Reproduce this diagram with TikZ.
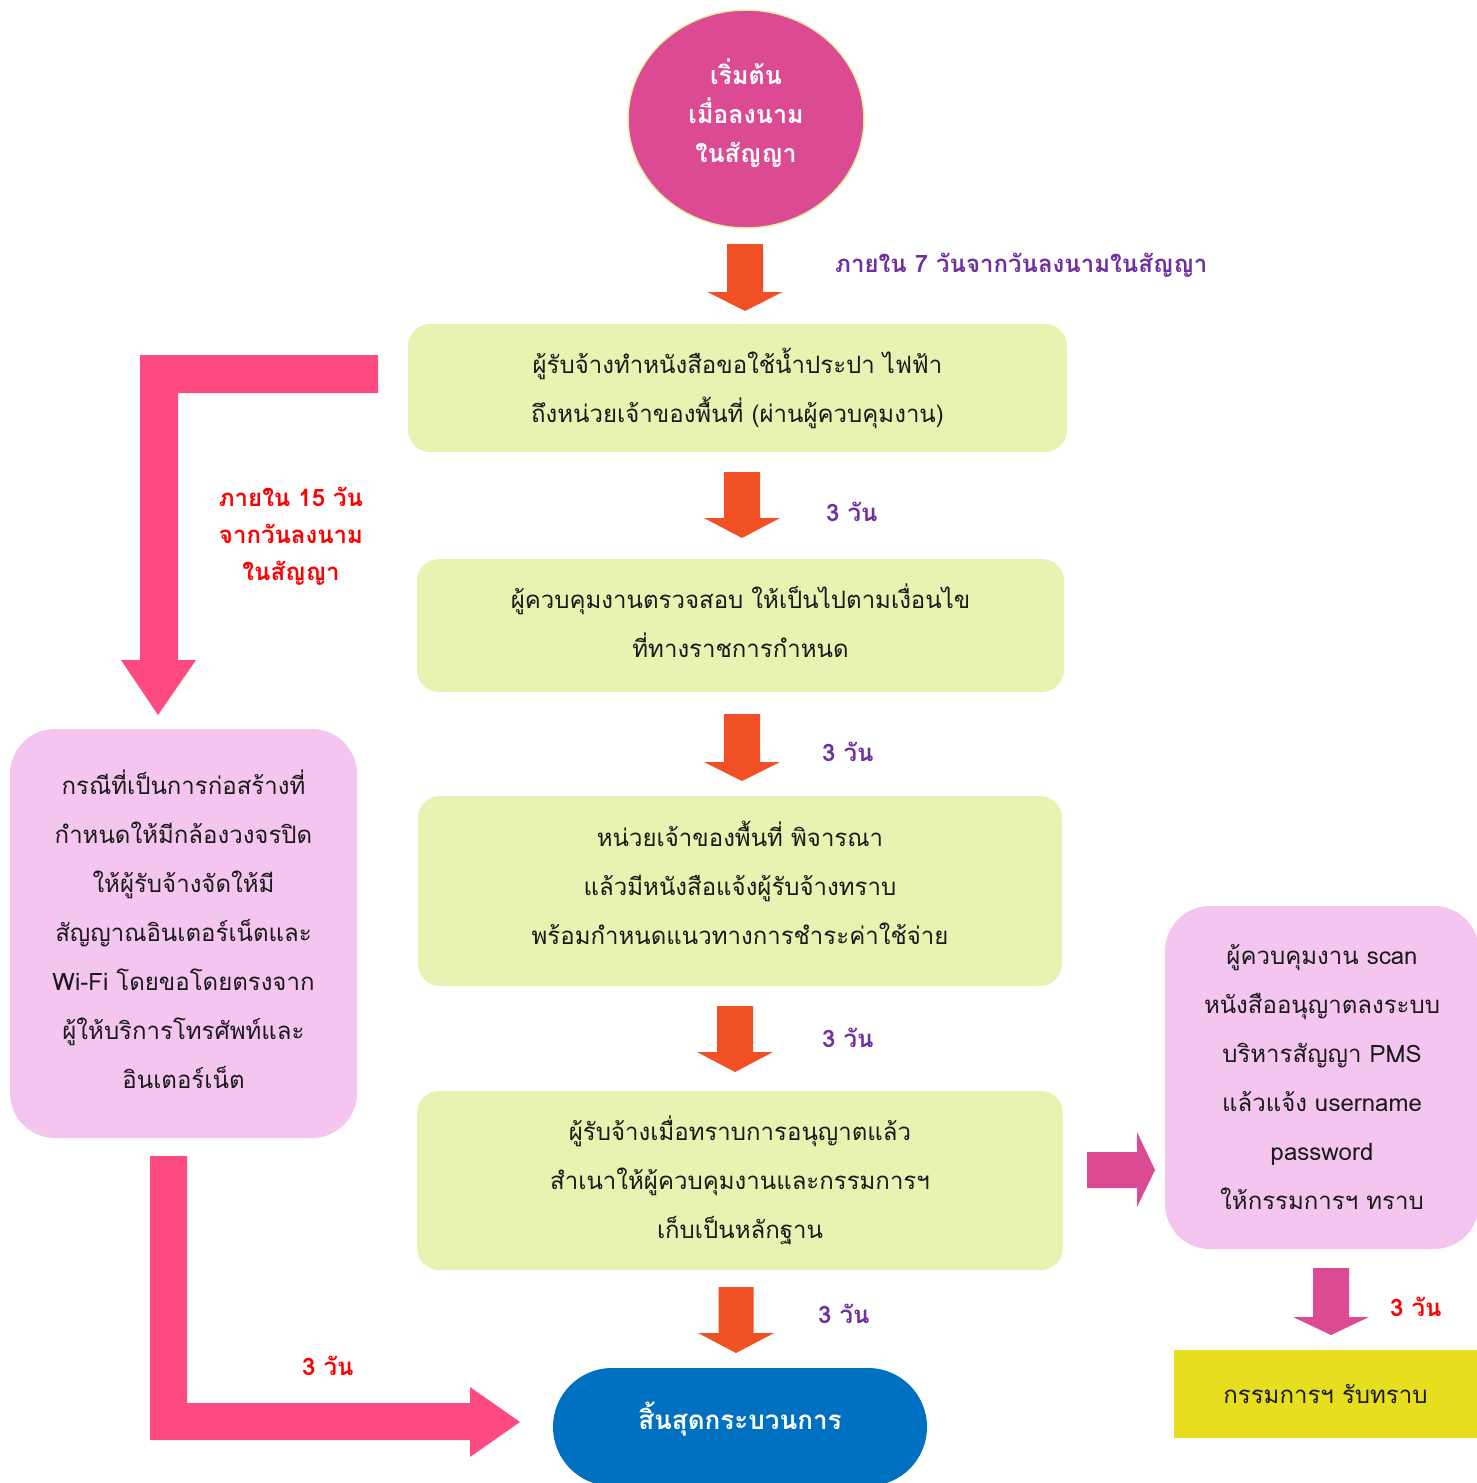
\documentclass[tikz,border=0pt]{standalone}
\usepackage{fontspec}
\newfontfamily\thai[Script=Thai]{Loma}
\usetikzlibrary{shapes.geometric}

\definecolor{startpink}{HTML}{DB4A93}
\definecolor{rimgreen}{HTML}{E6F0A6}
\definecolor{boxgreen}{HTML}{E9F2B0}
\definecolor{flow}{HTML}{F15025}
\definecolor{softpink}{HTML}{F4C6EF}
\definecolor{hotpink}{HTML}{FD4A80}
\definecolor{endblue}{HTML}{0070C0}
\definecolor{notice}{HTML}{E6DE1F}
\definecolor{daycol}{HTML}{7030A0}
\definecolor{bodytext}{HTML}{1A1A1A}

% vertical block arrow: centre x, top, neck, tip, shaft half width, head half width
\newcommand\dnblock[7]{%
  \fill[#7] (#1-#5,#2) -- (#1+#5,#2) -- (#1+#5,#3) -- (#1+#6,#3) -- (#1,#4)
    -- (#1-#6,#3) -- (#1-#5,#3) -- cycle;}

\tikzset{
  stepbox/.style={rounded corners=22pt, fill=boxgreen, inner sep=0pt},
  sidebox/.style={rounded corners=45pt, fill=softpink, inner sep=0pt},
  boxtext/.style={text=bodytext, inner sep=0pt, align=center,
    font=\thai\fontsize{24}{49}\selectfont},
  headtext/.style={text=white, inner sep=0pt, align=center,
    font=\thai\bfseries\fontsize{25}{39}\selectfont},
  daylabel/.style={font=\thai\bfseries\fontsize{24}{37}\selectfont,
    text=daycol, inner sep=0pt, align=center},
  redlabel/.style={daylabel, text=red},
}

\begin{document}
\begin{tikzpicture}[x=1pt,y=-1pt]
\useasboundingbox (0,0) rectangle (1477,1483);

% start
\node[ellipse, fill=startpink, draw=rimgreen, line width=1.5pt,
  minimum width=236pt, minimum height=218pt] (start) at (746,119) {};
\node[headtext] (startt) at ([yshift=6pt]start.center)
  {เริ่มต้น\\เมื่อลงนาม\\ในสัญญา};

\dnblock{745}{244}{292}{311}{18}{37.5}{flow}
\node[daylabel, anchor=west] (d7) at (835,265) {ภายใน 7 วันจากวันลงนามในสัญญา};

% main column
\node[stepbox, minimum width=659pt, minimum height=128pt] (s1) at (737.5,388) {};
\node[boxtext] (s1t) at (s1.center)
  {ผู้รับจ้างทำหนังสือขอใช้น้ำประปา ไฟฟ้า\\ถึงหน่วยเจ้าของพื้นที่ (ผ่านผู้ควบคุมงาน)};

\dnblock{742}{472}{518}{538}{18}{38}{flow}
\node[daylabel, anchor=west] (d1) at (826,512) {3 วัน};

\node[stepbox, minimum width=647pt, minimum height=133pt] (s2) at (740.5,625.5) {};
\node[boxtext] (s2t) at ([yshift=5pt]s2.center)
  {ผู้ควบคุมงานตรวจสอบ ให้เป็นไปตามเงื่อนไข\\ที่ทางราชการกำหนด};

\dnblock{742}{714}{762}{781}{18}{38}{flow}
\node[daylabel, anchor=west] (d2) at (822,752) {3 วัน};

\node[stepbox, minimum width=644pt, minimum height=190pt] (s3) at (740,891) {};
\node[boxtext] (s3t) at ([yshift=8pt]s3.center)
  {หน่วยเจ้าของพื้นที่ พิจารณา\\แล้วมีหนังสือแจ้งผู้รับจ้างทราบ\\พร้อมกำหนดแนวทางการชำระค่าใช้จ่าย};

\dnblock{735}{1006}{1052}{1072}{18}{38}{flow}
\node[daylabel, anchor=west] (d3) at (822,1038) {3 วัน};

\node[stepbox, minimum width=646pt, minimum height=179pt] (s4) at (740,1180.5) {};
\node[boxtext] (s4t) at (s4.center)
  {ผู้รับจ้างเมื่อทราบการอนุญาตแล้ว\\สำเนาให้ผู้ควบคุมงานและกรรมการฯ\\เก็บเป็นหลักฐาน};

\dnblock{736}{1287}{1333}{1353}{17.5}{38}{flow}
\node[daylabel, anchor=west] (d4) at (818,1314) {3 วัน};

\node[rounded corners=59pt, fill=endblue, minimum width=374pt,
  minimum height=118pt, inner sep=0pt] (finish) at (740,1427) {};
\node[headtext, font=\thai\bfseries\fontsize{26}{39}\selectfont] (finisht)
  at ([yshift=8pt]finish.center) {สิ้นสุดกระบวนการ};

% left branch
\fill[hotpink] (378,355) -- (140,355) -- (140,660) -- (121,660) -- (158,715)
  -- (196,660) -- (178,660) -- (178,393) -- (378,393) -- cycle;
\node[redlabel] (d15) at (291,536) {ภายใน 15 วัน\\จากวันลงนาม\\ในสัญญา};

\node[sidebox, minimum width=347pt, minimum height=409pt] (cctv) at (183.5,933.5) {};
\node[boxtext] (cctvt) at ([yshift=4pt]cctv.center)
  {กรณีที่เป็นการก่อสร้างที่\\กำหนดให้มีกล้องวงจรปิด\\ให้ผู้รับจ้างจัดให้มี\\สัญญาณอินเตอร์เน็ตและ\\Wi-Fi โดยขอโดยตรงจาก\\ผู้ให้บริการโทรศัพท์และ\\อินเตอร์เน็ต};

\fill[hotpink] (150,1156) -- (187,1156) -- (187,1403) -- (470,1403) -- (470,1387)
  -- (520,1422) -- (470,1457) -- (470,1440) -- (150,1440) -- cycle;
\node[redlabel, anchor=west] (dl) at (302,1366) {3 วัน};

% right branch
\fill[startpink] (1087,1152) -- (1137,1152) -- (1137,1132) -- (1155,1170)
  -- (1137,1207) -- (1137,1188) -- (1087,1188) -- cycle;

\node[sidebox, minimum width=314pt, minimum height=343pt] (pms) at (1322,1077.5) {};
\node[boxtext] (pmst) at (pms.center)
  {ผู้ควบคุมงาน scan\\หนังสืออนุญาตลงระบบ\\บริหารสัญญา PMS\\แล้วแจ้ง username\\password\\ให้กรรมการฯ ทราบ};

\dnblock{1331}{1268}{1317}{1335}{18}{38}{startpink}
\node[redlabel, anchor=west] (dr) at (1390,1307) {3 วัน};

\node[fill=notice, minimum width=303pt, minimum height=88pt, inner sep=0pt,
  text=bodytext, font=\thai\fontsize{24}{49}\selectfont] (ack) at (1325.5,1394)
  {กรรมการฯ รับทราบ};
\end{tikzpicture}
\end{document}
